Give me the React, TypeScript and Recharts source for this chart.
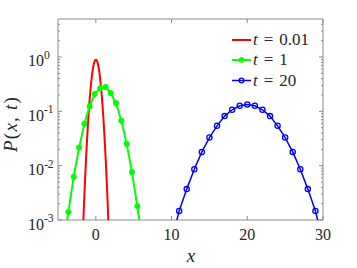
import React from 'react';
import { LineChart, Line, XAxis, YAxis, ReferenceArea, Legend } from 'recharts';

// ---- data ----
const redX = [-1.8, -1.7, -1.6, -1.5, -1.4, -1.3, -1.2, -1.1, -1.0, -0.9, -0.8, -0.7, -0.6, -0.5, -0.4, -0.3, -0.2, -0.1, 0, 0.1, 0.2, 0.3, 0.4, 0.5, 0.6, 0.7, 0.8, 0.9, 1.0, 1.1, 1.2, 1.3, 1.4, 1.5, 1.6, 1.7, 1.8];
const redY = [0.00027, 0.00065, 0.0015, 0.0032, 0.0066, 0.013, 0.024, 0.043, 0.073, 0.117, 0.18, 0.26, 0.36, 0.476, 0.596, 0.71, 0.805, 0.868, 0.89, 0.868, 0.805, 0.71, 0.596, 0.476, 0.36, 0.26, 0.18, 0.117, 0.073, 0.043, 0.024, 0.013, 0.0066, 0.0032, 0.0015, 0.00065, 0.00027];

const greenX = [-4.33, -3.63, -2.93, -2.21, -1.51, -0.82, -0.16, 0.59, 1.29, 1.95, 2.66, 3.37, 4.07, 4.77, 5.48, 6.18];
const greenY = [0.0003, 0.0014, 0.0062, 0.0215, 0.059, 0.123, 0.208, 0.268, 0.28, 0.217, 0.142, 0.067, 0.0252, 0.0076, 0.0018, 0.0004];

const blueX = [10, 11, 12, 13, 14, 15, 16, 17, 18, 19, 20, 21, 22, 23, 24, 25, 26, 27, 28, 29, 30];
const blueY = [0.0004, 0.00147, 0.0037, 0.0086, 0.0179, 0.0329, 0.0541, 0.0817, 0.1067, 0.1265, 0.1336, 0.1265, 0.1067, 0.0817, 0.0541, 0.0329, 0.0179, 0.0086, 0.0037, 0.00147, 0.0004];

const tLabels = ['0.01', '1', '20'];
const xTicks = [0, 10, 20, 30];
const yMajor = [0.001, 0.01, 0.1, 1];
const yMinor = [0.002, 0.003, 0.004, 0.005, 0.006, 0.007, 0.008, 0.009, 0.02, 0.03, 0.04, 0.05, 0.06, 0.07, 0.08, 0.09, 0.2, 0.3, 0.4, 0.5, 0.6, 0.7, 0.8, 0.9, 2, 3, 4];
const xDomain = [-5, 30];
const yDomain = [0.001, 5];

const toRows = (xs: number[], ys: number[]) => xs.map((x, i) => ({ x, y: ys[i] }));
const redData = toRows(redX, redY);
const greenData = toRows(greenX, greenY);
const blueData = toRows(blueX, blueY);

// ---- layout / style ----
const W = 357;
const H = 268;
const L = 58;
const R = 323;
const T = 19;
const B = 220;
const FONT = 'Liberation Serif';
const TXT = '#262626';
const AX = '#8a8a8a';
const RED = '#ff0000';
const GREEN = '#00ff00';
const BLUE = '#0000ff';

const YTick = (props: any) => {
  const { y, payload } = props;
  const v = payload.value;
  const major = yMajor.some((m) => Math.abs(m - v) < 1e-12);
  const len = major ? 4 : 2;
  return (
    <g>
      <line x1={L} x2={L + len} y1={y} y2={y} stroke={AX} strokeWidth={1} />
      <line x1={R - len} x2={R} y1={y} y2={y} stroke={AX} strokeWidth={1} />
      {major && (
        <text x={28} y={y + 9.5} fontFamily={FONT} fontSize={16} fill={TXT} textAnchor="start">
          10
          <tspan dy={-7.5} fontSize={11.5}>{String(Math.round(Math.log10(v)))}</tspan>
        </text>
      )}
    </g>
  );
};

const XTick = (props: any) => {
  const { x, payload } = props;
  return (
    <g>
      <line x1={x} x2={x} y1={B} y2={B - 4} stroke={AX} strokeWidth={1} />
      <line x1={x} x2={x} y1={T} y2={T + 4} stroke={AX} strokeWidth={1} />
      <text x={x} y={240} fontFamily={FONT} fontSize={16} fill={TXT} textAnchor="middle">
        {payload.value}
      </text>
    </g>
  );
};

const makeDot = (kind: 'filled' | 'open', color: string) => (props: any) => {
  const { cx, cy, payload, index } = props;
  if (payload.y < yDomain[0] || cx == null || cy == null) return <g key={`d${index}`} />;
  return kind === 'filled' ? (
    <circle key={`d${index}`} cx={cx} cy={cy} r={2.6} fill={color} stroke={color} strokeWidth={1} />
  ) : (
    <circle key={`d${index}`} cx={cx} cy={cy} r={2.6} fill="none" stroke={color} strokeWidth={1.3} />
  );
};

const LegendBox = () => {
  const colors = [RED, GREEN, BLUE];
  const rows = [12, 32, 52.5];
  return (
    <svg width={110} height={68} style={{ display: 'block', overflow: 'visible' }}>
      {tLabels.map((lab, i) => (
        <g key={lab}>
          <line x1={4} x2={23} y1={rows[i]} y2={rows[i]} stroke={colors[i]} strokeWidth={i === 2 ? 1.5 : 2} />
          {i === 1 && <circle cx={13.5} cy={rows[i]} r={2.4} fill={GREEN} stroke={GREEN} />}
          {i === 2 && <circle cx={13.5} cy={rows[i]} r={2.4} fill="none" stroke={BLUE} strokeWidth={1.3} />}
          <text x={25} y={rows[i] + 5.3} fontFamily={FONT} fontSize={17} fill={TXT}>
            <tspan fontStyle="italic">t</tspan>
            <tspan dx={6}>=</tspan>
            <tspan dx={6}>{lab}</tspan>
          </text>
        </g>
      ))}
    </svg>
  );
};

export default function App() {
  return (
    <div style={{ position: 'absolute', left: 0, top: 0, width: W, height: H, background: '#fff' }}>
      <LineChart width={W} height={H} margin={{ top: T, right: W - R, bottom: 0, left: 0 }}>
        <XAxis
          type="number"
          dataKey="x"
          domain={xDomain}
          ticks={xTicks}
          interval={0}
          allowDataOverflow
          height={H - B}
          axisLine={false}
          tickLine={false}
          tick={<XTick />}
        />
        <YAxis
          type="number"
          dataKey="y"
          scale="log"
          domain={yDomain}
          ticks={[...yMajor, ...yMinor]}
          interval={0}
          allowDataOverflow
          width={L}
          axisLine={false}
          tickLine={false}
          tick={<YTick />}
        />
        <Line data={redData} dataKey="y" type="monotone" stroke={RED} strokeWidth={2} dot={false} isAnimationActive={false} />
        <Line data={greenData} dataKey="y" type="linear" stroke={GREEN} strokeWidth={2} dot={makeDot('filled', GREEN)} isAnimationActive={false} />
        <Line data={blueData} dataKey="y" type="linear" stroke={BLUE} strokeWidth={1.5} dot={makeDot('open', BLUE)} isAnimationActive={false} />
        <ReferenceArea x1={xDomain[0]} x2={xDomain[1]} y1={yDomain[0]} y2={yDomain[1]} fill="none" stroke={AX} strokeWidth={1} />
        <Legend
          layout="vertical"
          align="center"
          verticalAlign="middle"
          content={() => <LegendBox />}
          wrapperStyle={{ left: 228, top: 28, width: 110, height: 68 }}
        />
      </LineChart>
      <svg width={W} height={H} style={{ position: 'absolute', left: 0, top: 0, pointerEvents: 'none' }}>
        <text transform="translate(17,124) rotate(-90)" textAnchor="middle" fontFamily={FONT} fontSize={19} fill={TXT} letterSpacing={1.2}>
          <tspan fontStyle="italic">P</tspan>
          <tspan>(</tspan>
          <tspan fontStyle="italic">x</tspan>
          <tspan>, </tspan>
          <tspan fontStyle="italic">t</tspan>
          <tspan>)</tspan>
        </text>
        <text x={191} y={262} textAnchor="middle" fontFamily={FONT} fontSize={19} fontStyle="italic" fill={TXT}>
          x
        </text>
      </svg>
    </div>
  );
}
